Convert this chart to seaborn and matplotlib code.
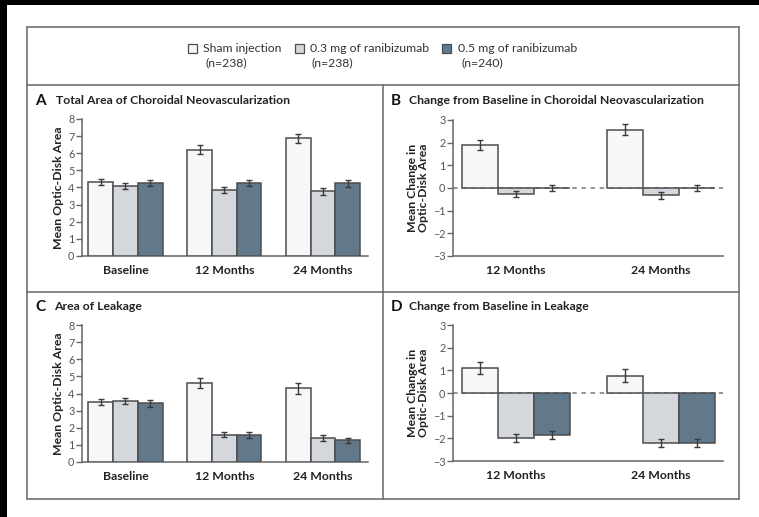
import matplotlib
matplotlib.use("Agg")
import matplotlib.pyplot as plt
from matplotlib.patches import Rectangle
from matplotlib.lines import Line2D
import seaborn as sns
import pandas as pd

# ---------------- data ----------------
groups = ["Sham injection", "0.3 mg of ranibizumab", "0.5 mg of ranibizumab"]
group_n = ["(n=238)", "(n=238)", "(n=240)"]
times_abc = ["Baseline", "12 Months", "24 Months"]
times_bd = ["12 Months", "24 Months"]

a_sham = [4.30, 6.20, 6.88]
a_03 = [4.10, 3.85, 3.78]
a_05 = [4.25, 4.25, 4.25]
a_sham_err = [0.17, 0.27, 0.27]
a_03_err = [0.17, 0.20, 0.20]
a_05_err = [0.17, 0.18, 0.20]

b_sham = [1.90, 2.58]
b_03 = [-0.27, -0.33]
b_05 = [0.00, 0.00]
b_sham_err = [0.23, 0.23]
b_03_err = [0.13, 0.15]
b_05_err = [0.15, 0.15]

c_sham = [3.52, 4.62, 4.30]
c_03 = [3.55, 1.60, 1.40]
c_05 = [3.43, 1.60, 1.28]
c_sham_err = [0.18, 0.28, 0.30]
c_03_err = [0.17, 0.15, 0.17]
c_05_err = [0.20, 0.17, 0.15]

d_sham = [1.10, 0.77]
d_03 = [-1.98, -2.20]
d_05 = [-1.84, -2.20]
d_sham_err = [0.25, 0.27]
d_03_err = [0.17, 0.17]
d_05_err = [0.17, 0.17]

colors = ["#f7f7f9", "#d3d8dd", "#5b7a93"]
edge = "#4d4d4d"

sns.set_style("white")
plt.rcParams["font.family"] = ["Lato", "DejaVu Sans"]

W, H = 759, 517
fig = plt.figure(figsize=(W / 100, H / 100), dpi=100)
fig.patch.set_facecolor("black")


def fx(x):
    return x / W


def fy(y):
    return 1 - y / H


# white page
fig.add_artist(Rectangle((fx(7), 0), 1 - fx(7), fy(5), transform=fig.transFigure,
                         facecolor="white", edgecolor="none", zorder=-10))

# frame lines
lc = "#666666"
def hline(x0, x1, y):
    fig.add_artist(Line2D([fx(x0), fx(x1)], [fy(y), fy(y)], transform=fig.transFigure,
                          color=lc, lw=1.1, zorder=-5))

def vline(x, y0, y1):
    fig.add_artist(Line2D([fx(x), fx(x)], [fy(y0), fy(y1)], transform=fig.transFigure,
                          color=lc, lw=1.1, zorder=-5))

hline(27, 739, 27)
hline(27, 739, 499)
hline(27, 739, 85)
hline(27, 739, 292)
vline(27, 27, 499)
vline(739, 27, 499)
vline(383, 85, 499)

# legend (manual)
sq_x = [188, 295, 442]
txt_x = [203, 310, 458]
n_x = [205, 312, 461]
for i in range(3):
    fig.add_artist(Rectangle((fx(sq_x[i]), fy(52.5)), 8.5 / W, 8.5 / H, transform=fig.transFigure,
                             facecolor=colors[i], edgecolor=edge, lw=0.9))
    fig.text(fx(txt_x[i]), fy(48.5), groups[i], fontsize=8.8, color="#333333",
             va="center", ha="left")
    fig.text(fx(n_x[i]), fy(63), group_n[i], fontsize=8.8, color="#333333",
             va="center", ha="left")


def make_df(times, s, s03, s05):
    rows = []
    for vals, g in zip([s, s03, s05], groups):
        for t, v in zip(times, vals):
            rows.append({"time": t, "group": g, "value": v})
    return pd.DataFrame(rows)


def panel(rect_px, times, vals, errs, ylim, yticks, xlim, ylabel, letter, title,
          letter_xy, zero_line=False):
    x0, y0, x1, y1 = rect_px
    ax = fig.add_axes([fx(x0), fy(y1), (x1 - x0) / W, (y1 - y0) / H])
    df = make_df(times, *vals)
    sns.barplot(data=df, x="time", y="value", hue="group", hue_order=groups,
                order=times, palette=colors, width=0.75, errorbar=None,
                edgecolor=edge, linewidth=1.1, legend=False, ax=ax, zorder=3)
    for cont, err in zip(ax.containers, errs):
        xs = [b.get_x() + b.get_width() / 2 for b in cont]
        ys = [b.get_height() for b in cont]
        ax.errorbar(xs, ys, yerr=err, fmt="none", ecolor="#3a3a3a", elinewidth=1.0,
                    capsize=2, capthick=1.0, zorder=4)
    if zero_line:
        ax.axhline(0, color="#777777", lw=1.1, ls=(0, (3, 3)), zorder=1)
    ax.set_ylim(*ylim)
    ax.set_xlim(*xlim)
    ax.set_yticks(yticks)
    ax.set_yticklabels([str(t).replace("-", "\u2212") for t in yticks])
    sns.despine(ax=ax)
    for side in ["left", "bottom"]:
        ax.spines[side].set_color("#666666")
        ax.spines[side].set_linewidth(1.1)
    ax.tick_params(axis="y", which="both", left=True, length=4, width=1, color="#666666",
                   labelsize=7.8, labelcolor="#555555", pad=1.5, direction="out")
    ax.tick_params(axis="x", bottom=False, labelsize=8.8, pad=3, labelcolor="#222222")
    for lab in ax.get_xticklabels():
        lab.set_fontweight("bold")
    ax.set_xlabel("")
    ax.set_ylabel(ylabel, fontsize=8.8, fontweight="bold", color="#222222",
                  labelpad=3, linespacing=1.0)
    ax.set_facecolor("none")
    lx, ly, tx = letter_xy
    fig.text(fx(lx), fy(ly), letter, fontsize=11, fontweight="bold", color="#111111",
             va="center", ha="left")
    fig.text(fx(tx), fy(ly), title, fontsize=8.8, fontweight="bold", color="#222222",
             va="center", ha="left")
    return ax


panel((82, 119, 368, 256), times_abc, [a_sham, a_03, a_05],
      [a_sham_err, a_03_err, a_05_err], (0, 8), list(range(0, 9)), (-0.44, 2.455),
      "Mean Optic-Disk Area", "A", "Total Area of Choroidal Neovascularization",
      (35, 101, 56))

panel((453, 120, 723, 256), times_bd, [b_sham, b_03, b_05],
      [b_sham_err, b_03_err, b_05_err], (-3, 3), list(range(-3, 4)), (-0.436, 1.43),
      "Mean Change in\nOptic-Disk Area", "B", "Change from Baseline in Choroidal Neovascularization",
      (391, 101, 409), zero_line=True)

panel((82, 325, 368, 462), times_abc, [c_sham, c_03, c_05],
      [c_sham_err, c_03_err, c_05_err], (0, 8), list(range(0, 9)), (-0.44, 2.455),
      "Mean Optic-Disk Area", "C", "Area of Leakage",
      (35, 307, 54))

panel((453, 325, 723, 461), times_bd, [d_sham, d_03, d_05],
      [d_sham_err, d_03_err, d_05_err], (-3, 3), list(range(-3, 4)), (-0.436, 1.43),
      "Mean Change in\nOptic-Disk Area", "D", "Change from Baseline in Leakage",
      (391, 307, 409), zero_line=True)

fig.savefig("out.png", dpi=100, facecolor=fig.get_facecolor())
